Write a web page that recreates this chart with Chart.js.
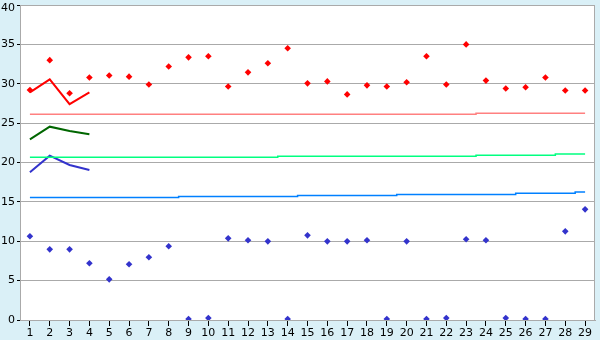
<!DOCTYPE html>
<html>
<head>
<meta charset="utf-8">
<script src="https://cdn.jsdelivr.net/npm/chart.js@4.4.1/dist/chart.umd.min.js"></script>
<style>
  html, body { margin: 0; padding: 0; background: #daf0f7; }
  #chart { display: block; }
</style>
</head>
<body>
<canvas id="chart" width="600" height="340"></canvas>
<script>
const days = ['1','2','3','4','5','6','7','8','9','10','11','12','13','14','15','16','17','18','19','20','21','22','23','24','25','26','27','28','29'];
const yTicks = [0, 5, 10, 15, 20, 25, 30, 35, 40];

// daily points
const highPoints = [29.2, 33.0, 28.8, 30.8, 31.05, 30.9, 29.9, 32.2, 33.35, 33.5, 29.65, 31.45, 32.6, 34.5, 30.05,
  30.3, 28.65, 29.8, 29.65, 30.2, 33.5, 29.9, 35.0, 30.4, 29.4, 29.55, 30.8, 29.15, 29.15];
const lowPoints = [10.63, 8.97, 8.97, 7.2, 5.16, 7.07, 7.96, 9.36, 0.13, 0.25, 10.37, 10.12, 9.99, 0.13, 10.75,
  9.99, 9.99, 10.12, 0.13, 9.99, 0.13, 0.25, 10.25, 10.12, 0.25, 0.13, 0.13, 11.26, 14.05];

// long term averages (stepped)
const avgHigh = [26.12, 26.12, 26.12, 26.12, 26.12, 26.12, 26.12, 26.12, 26.12, 26.12, 26.12, 26.12, 26.12, 26.12, 26.12,
  26.12, 26.12, 26.12, 26.12, 26.12, 26.12, 26.12, 26.12, 26.25, 26.25, 26.25, 26.25, 26.25, 26.25];
const avgMean = [20.66, 20.66, 20.66, 20.66, 20.66, 20.66, 20.66, 20.66, 20.66, 20.66, 20.66, 20.66, 20.66, 20.79, 20.79,
  20.79, 20.79, 20.79, 20.79, 20.79, 20.79, 20.79, 20.79, 20.91, 20.91, 20.91, 20.91, 21.08, 21.08];
const avgLow = [15.55, 15.55, 15.55, 15.55, 15.55, 15.55, 15.55, 15.55, 15.68, 15.68, 15.68, 15.68, 15.68, 15.68, 15.8,
  15.8, 15.8, 15.8, 15.8, 15.93, 15.93, 15.93, 15.93, 15.93, 15.93, 16.1, 16.1, 16.1, 16.25];

// short running lines (first 4 days)
const runHigh = [28.9, 30.55, 27.4, 28.9];
const runMean = [22.94, 24.55, 24.0, 23.58];
const runLow = [18.75, 20.87, 19.68, 19.05];

const font = { family: 'DejaVu Sans', size: 11 };
const topTick = yTicks[yTicks.length - 1];

// light blue outside, white plot, grey frame on the right
const plotBg = {
  id: 'plotBg',
  beforeDraw(c) {
    const { ctx, chartArea: a } = c;
    ctx.save();
    ctx.fillStyle = '#daf0f7';
    ctx.fillRect(0, 0, c.width, c.height);
    ctx.fillStyle = '#ffffff';
    ctx.fillRect(a.left, a.top, a.right - a.left, a.bottom - a.top);
    ctx.restore();
  },
  beforeDatasetsDraw(c) {
    const { ctx, chartArea: a } = c;
    ctx.save();
    ctx.strokeStyle = '#aaaaaa';
    ctx.lineWidth = 1;
    ctx.beginPath();
    ctx.moveTo(Math.round(a.right) - 0.5, a.top);
    ctx.lineTo(Math.round(a.right) - 0.5, a.bottom);
    ctx.stroke();
    ctx.restore();
  },
  // top label sits a bit lower so it isn't cut off
  afterDraw(c) {
    const { ctx } = c;
    const y = c.scales.y;
    ctx.save();
    ctx.fillStyle = '#000000';
    ctx.font = font.size + 'px "' + font.family + '"';
    ctx.textAlign = 'right';
    ctx.textBaseline = 'middle';
    ctx.fillText(String(topTick), y.right - 5, y.getPixelForValue(topTick) + 3);
    ctx.restore();
  }
};

function flat(data, color) {
  return { type: 'line', data, borderColor: color, borderWidth: 1.5, pointRadius: 0, stepped: 'middle', fill: false };
}
function run(data, color) {
  return { type: 'line', data, borderColor: color, borderWidth: 2, pointRadius: 0, tension: 0, fill: false };
}
function dots(data, color) {
  return { type: 'line', data, showLine: false, pointStyle: 'rectRot', pointRadius: 3.3,
    pointBackgroundColor: color, pointBorderColor: color, pointBorderWidth: 0 };
}

new Chart(document.getElementById('chart'), {
  data: {
    labels: days,
    datasets: [
      flat(avgHigh, '#ff8080'),
      flat(avgMean, '#00ff80'),
      flat(avgLow, '#0080ff'),
      run(runHigh, '#ff0000'),
      run(runMean, '#006600'),
      run(runLow, '#3333cc'),
      dots(highPoints, '#ff0000'),
      dots(lowPoints, '#3333cc')
    ]
  },
  options: {
    responsive: false,
    animation: false,
    layout: { padding: { top: 5, right: 5, left: 0, bottom: 0 } },
    plugins: { legend: { display: false }, tooltip: { enabled: false } },
    scales: {
      x: {
        type: 'category',
        offset: true,
        grid: { offset: false, drawOnChartArea: false, tickLength: 6, tickColor: '#000000' },
        border: { color: '#aaaaaa' },
        ticks: { color: '#000000', font, padding: 1, maxRotation: 0, autoSkip: false },
        afterFit(s) { s.height = 20; s.paddingLeft = 0; s.paddingRight = 0; }
      },
      y: {
        min: 0,
        max: 40,
        afterBuildTicks(s) { s.ticks = yTicks.map(v => ({ value: v })); },
        grid: { color: '#aaaaaa', tickLength: 3, tickColor: '#000000' },
        border: { color: '#aaaaaa' },
        ticks: { color: '#000000', font, padding: 2, callback: v => (v === topTick ? '' : String(v)) },
        afterFit(s) { s.width = 20; s.paddingTop = 0; s.paddingBottom = 0; }
      }
    }
  },
  plugins: [plotBg]
});
</script>
</body>
</html>
